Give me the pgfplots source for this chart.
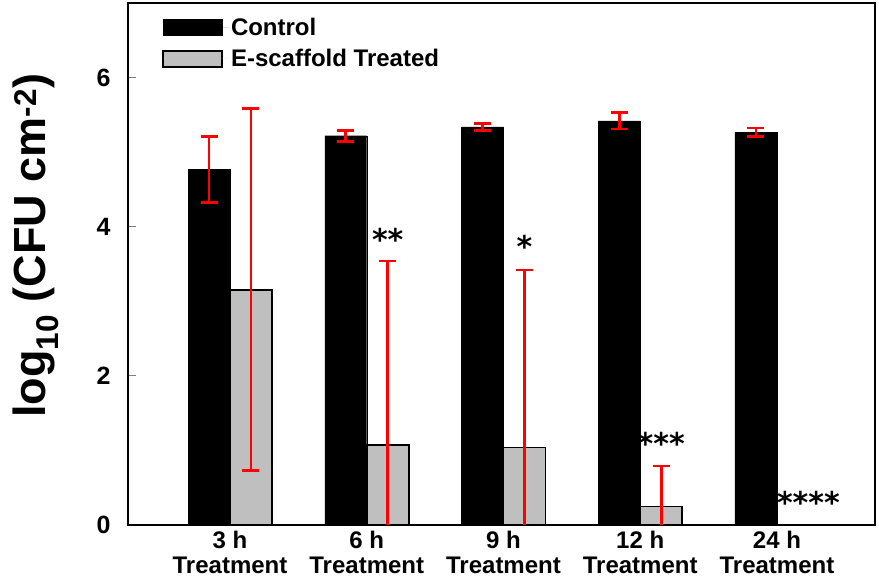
\documentclass[border=0pt]{standalone}
\usepackage{pgfplots}
\pgfplotsset{compat=1.18}
\usepackage{fontspec}
\setmainfont{Liberation Sans}
\newfontfamily\dv{DejaVu Sans}
\begin{document}
\begin{tikzpicture}
\begin{axis}[
  scale only axis,
  width=747pt, height=522pt,
  xmin=-0.746, xmax=4.717,
  ymin=0, ymax=7,
  xtick={0,1,2,3,4},
  xticklabels={{3 h\\Treatment},{6 h\\Treatment},{9 h\\Treatment},{12 h\\Treatment},{24 h\\Treatment}},
  xticklabel style={align=center, font=\fontsize{24}{25}\selectfont\bfseries, yshift=-3pt},
  ytick={0,2,4,6},
  yticklabel style={font=\fontsize{25}{28}\selectfont\bfseries, xshift=-14pt},
  /pgf/number format/assume math mode=true,
  ytick pos=left,
  tick align=inside,
  x tick style={draw=none},
  major tick length=8pt,
  axis line style={line width=1.3pt},
  y tick style={line width=1pt},
  ylabel={log\textsubscript{10} (CFU cm\textsuperscript{-2})},
  ylabel style={at={(axis description cs:-0.123,0.535)}, anchor=center, font=\fontsize{45}{48}\selectfont\bfseries},
  legend style={draw=none, fill=none, at={(rel axis cs:0.0415,0.98)}, anchor=north west,
    font=\fontsize{24}{26}\selectfont\bfseries, row sep=9pt,
    legend cell align=left},
  clip=true,
]
\addplot[ybar, bar width=0.307, bar shift=0, fill=black, draw=black,
  legend image code/.code={\draw[fill=black,draw=black] (0pt,-8pt) rectangle (59pt,8pt); \path[draw=none] (0pt,0pt) -- (66pt,0pt);},
  error bars/.cd, y dir=both, y explicit,
  error bar style={red, line width=2.8pt},
  error mark options={rotate=90, red, mark size=8.5pt, line width=2.8pt}]
  coordinates {
  (-0.1535,4.77) +- (0,0.445)
  (0.8465,5.22) +- (0,0.075)
  (1.8465,5.34) +- (0,0.045)
  (2.8465,5.42) +- (0,0.11)
  (3.8465,5.27) +- (0,0.055)
  };
\addlegendentry{Control}
\addplot[ybar, bar width=0.307, bar shift=0, fill=black!25, draw=black, line width=1.6pt,
  legend image code/.code={\draw[fill=black!25,draw=black,line width=1.6pt] (0pt,-8pt) rectangle (59pt,8pt); \path[draw=none] (0pt,0pt) -- (66pt,0pt);},
  error bars/.cd, y dir=both, y explicit,
  error bar style={red, line width=2.8pt},
  error mark options={rotate=90, red, mark size=8.5pt, line width=2.8pt}]
  coordinates {
  (0.1535,3.15) += (0,2.43) -= (0,2.42)
  (1.1535,1.07) += (0,2.47) -= (0,1.3)
  (2.1535,1.04) += (0,2.38) -= (0,1.3)
  (3.1535,0.25) += (0,0.54) -= (0,0.5)
  };
\addlegendentry{E-scaffold Treated}
\node[font=\dv\bfseries\fontsize{30}{30}\selectfont, anchor=center] at (axis cs:1.1535,3.83) {**};
\node[font=\dv\bfseries\fontsize{30}{30}\selectfont, anchor=center] at (axis cs:2.1535,3.73) {*};
\node[font=\dv\bfseries\fontsize{30}{30}\selectfont, anchor=center] at (axis cs:3.1535,1.10) {***};
\node[font=\dv\bfseries\fontsize{30}{30}\selectfont, anchor=center] at (axis cs:4.23,0.30) {****};
\end{axis}
\path (current axis.south west) ++(-128pt,-59pt) coordinate (BBA);
\path (current axis.north east) ++(4pt,3pt) coordinate (BBB);
\pgfresetboundingbox
\useasboundingbox (BBA) rectangle (BBB);
\end{tikzpicture}
\end{document}
